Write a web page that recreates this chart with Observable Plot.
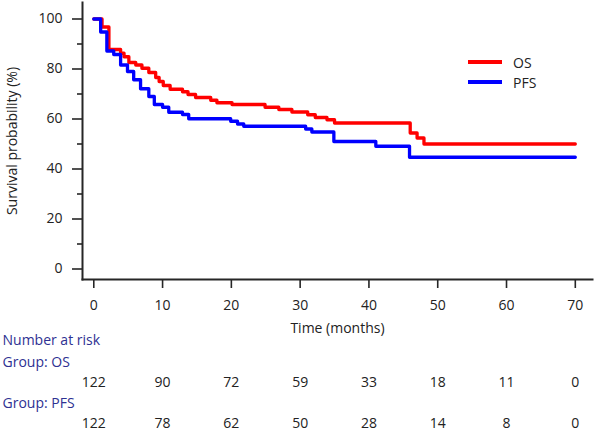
<!DOCTYPE html>
<html>
<head>
<meta charset="utf-8">
<script src="https://cdn.jsdelivr.net/npm/d3@7"></script>
<script src="https://cdn.jsdelivr.net/npm/@observablehq/plot@0.6"></script>
<style>
  html, body { margin: 0; padding: 0; background: #fff; }
  #wrap { position: relative; width: 594px; height: 430px; font-family: "Open Sans", sans-serif; }
  #legend { position: absolute; left: 468px; top: 52px; font-size: 14px; color: #222; }
  .item { display: flex; align-items: center; height: 20px; }
  .sw { width: 34px; height: 4px; margin-right: 11px; }
</style>
</head>
<body>
<div id="wrap"><div id="legend"></div></div>
<script>
// Kaplan-Meier step data (time in months, survival %)
const osTime  = [0, 1.2, 2.2, 3.9, 4.4, 5.1, 6.1, 7.0, 8.0, 9.0, 9.5, 10.1, 11.1, 12.9, 13.7, 14.8, 17.0, 17.9, 20.1, 24.9, 26.9, 28.8, 31.1, 32.2, 33.9, 35.0, 46.0, 47.0, 48.0, 70];
const osSurv  = [100, 96.8, 87.8, 86.3, 84.9, 82.6, 81.6, 80.3, 78.6, 76.6, 75.0, 73.4, 71.9, 70.9, 69.8, 68.6, 67.5, 66.5, 65.8, 64.7, 63.8, 62.8, 61.7, 60.6, 59.7, 58.4, 54.4, 52.4, 50.0, 50.0];
const pfsTime = [0, 1.0, 1.9, 2.9, 3.9, 4.9, 5.8, 6.8, 8.0, 8.8, 10.0, 10.9, 12.9, 13.8, 19.9, 20.9, 21.8, 30.8, 31.7, 34.9, 41.0, 45.9, 70];
const pfsSurv = [100, 94.8, 87.2, 85.8, 81.6, 79.0, 75.7, 72.1, 69.0, 65.8, 64.7, 62.7, 61.8, 60.1, 59.1, 58.0, 57.1, 56.0, 54.8, 51.0, 49.1, 44.7, 44.7];

const groups = ["OS", "PFS"];
const groupColors = ["#ff0000", "#0000ff"];

const xTicks = [0, 10, 20, 30, 40, 50, 60, 70];
const yTicks = [0, 20, 40, 60, 80, 100];
const yMinorTicks = [10, 30, 50, 70, 90];

const riskTimes = [0, 10, 20, 30, 40, 50, 60, 70];
const osRisk  = [122, 90, 72, 59, 33, 18, 11, 0];
const pfsRisk = [122, 78, 62, 50, 28, 14, 8, 0];

const xLabel = "Time (months)";
const yLabel = "Survival probability (%)";
const riskTitle = "Number at risk";
const riskGroupLabels = ["Group: OS", "Group: PFS"];

// build tables
const osData = osTime.map((t, i) => ({t, s: osSurv[i]}));
const pfsData = pfsTime.map((t, i) => ({t, s: pfsSurv[i]}));
const osRiskData = riskTimes.map((t, i) => ({t, n: osRisk[i]}));
const pfsRiskData = riskTimes.map((t, i) => ({t, n: pfsRisk[i]}));

const axisColor = "#262626";
const navy = "#2e3192";
const fs = 14;

const chart = Plot.plot({
  width: 594,
  height: 430,
  marginLeft: 82,
  marginRight: 2,
  marginTop: 2,
  marginBottom: 151,
  style: {fontFamily: "'Open Sans', sans-serif", fontSize: "13.5px", color: "#222", background: "white", overflow: "visible"},
  x: {domain: [-1.64, 72.5], axis: null, label: null},
  y: {domain: [-4.2, 106.6], axis: null, label: null},
  marks: [
    Plot.frame({anchor: "left", stroke: axisColor, strokeWidth: 2}),
    Plot.frame({anchor: "bottom", stroke: axisColor, strokeWidth: 2}),
    Plot.axisY(yTicks, {anchor: "left", tickSize: 10, tickPadding: 10, stroke: axisColor, strokeWidth: 1.6, fill: "#222", fontSize: fs,
      label: yLabel, labelAnchor: "center", labelArrow: "none", labelOffset: 75}),
    Plot.axisY(yMinorTicks, {anchor: "left", tickSize: 5, text: null, label: null, stroke: axisColor, strokeWidth: 1.6}),
    Plot.axisX(xTicks, {anchor: "bottom", tickSize: 9, tickPadding: 12, label: null, stroke: axisColor, strokeWidth: 1.6, fill: "#222", fontSize: fs}),
    Plot.line(osData, {x: "t", y: "s", curve: "step-after", stroke: groupColors[0], strokeWidth: 3.3}),
    Plot.line(pfsData, {x: "t", y: "s", curve: "step-after", stroke: groupColors[1], strokeWidth: 3.3}),
    Plot.text([xLabel], {frameAnchor: "bottom", dy: 53, fontSize: fs, fill: "#222"}),
    Plot.text([riskTitle], {frameAnchor: "bottom-left", dx: -80, dy: 65, textAnchor: "start", fontSize: fs, fill: navy}),
    Plot.text([riskGroupLabels[0]], {frameAnchor: "bottom-left", dx: -80, dy: 87, textAnchor: "start", fontSize: fs, fill: navy}),
    Plot.text([riskGroupLabels[1]], {frameAnchor: "bottom-left", dx: -80, dy: 128, textAnchor: "start", fontSize: fs, fill: navy}),
    Plot.text(osRiskData, {x: "t", text: "n", frameAnchor: "bottom", dy: 107, fontSize: fs, fill: "#222"}),
    Plot.text(pfsRiskData, {x: "t", text: "n", frameAnchor: "bottom", dy: 148, fontSize: fs, fill: "#222"})
  ]
});

const wrap = document.getElementById("wrap");
wrap.insertBefore(chart, wrap.firstChild);

const legend = document.getElementById("legend");
groups.forEach((g, i) => {
  const item = document.createElement("div");
  item.className = "item";
  const sw = document.createElement("span");
  sw.className = "sw";
  sw.style.background = groupColors[i];
  const lab = document.createElement("span");
  lab.textContent = g;
  item.appendChild(sw);
  item.appendChild(lab);
  legend.appendChild(item);
});
</script>
</body>
</html>
